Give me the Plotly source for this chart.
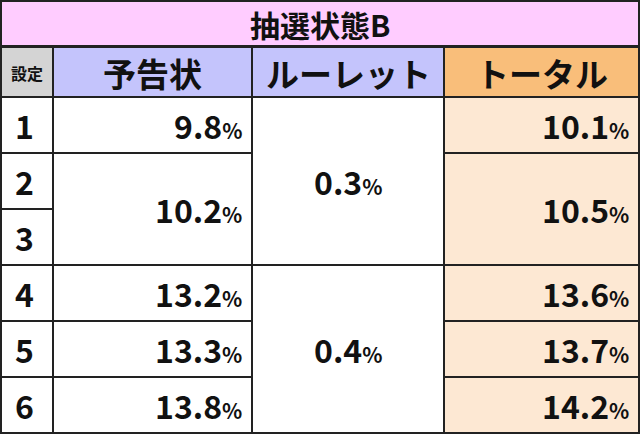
import plotly.graph_objects as go

title = "抽選状態B"
headers = ["設定", "予告状", "ルーレット", "トータル"]
settings = ["1", "2", "3", "4", "5", "6"]
# (value, row span) -- merged cells
yokoku = [("9.8", 1), ("10.2", 2), ("13.2", 1), ("13.3", 1), ("13.8", 1)]
roulette = [("0.3", 3), ("0.4", 3)]
total = [("10.1", 1), ("10.5", 2), ("13.6", 1), ("13.7", 1), ("14.2", 1)]

W, H = 640, 434
col_x = [1, 53, 252, 444, 639]
title_h, head_top, head_bot = 46, 47, 97
row_h = (H - 1 - head_bot) / 6
FONT = "Noto Sans CJK JP"

shapes, ann = [], []
def rect(x0, y0, x1, y1, fill):
    shapes.append(dict(type="rect", x0=x0, x1=x1, y0=y0, y1=y1, fillcolor=fill,
                       line=dict(color="#222", width=2), layer="below"))

def text(x, y, s, size, anchor="center"):
    ann.append(dict(x=x, y=y, text=s, showarrow=False, xanchor=anchor, yanchor="middle",
                    font=dict(family=FONT, size=size, color="#111")))

rect(1, 1, W - 1, title_h, "#ffccff")
text(W / 2, title_h / 2 + 1, "<b>" + title + "</b>", 30)

head_fill = ["#d4d4d4", "#c4c4fc", "#c4c4fc", "#f9be7a"]
for i, h in enumerate(headers):
    rect(col_x[i], head_top, col_x[i + 1], head_bot, head_fill[i])
    text((col_x[i] + col_x[i + 1]) / 2, (head_top + head_bot) / 2 + 1, "<b>" + h + "</b>",
         16 if i == 0 else 33)

for r, s in enumerate(settings):
    y0 = head_bot + r * row_h
    rect(col_x[0], y0, col_x[1], y0 + row_h, "#ffffff")
    text((col_x[0] + col_x[1]) / 2 - 3, y0 + row_h / 2, "<b>" + s + "</b>", 32)

def column(ci, items, fill, anchor):
    r = 0
    for v, span in items:
        y0 = head_bot + r * row_h
        y1 = y0 + span * row_h
        rect(col_x[ci], y0, col_x[ci + 1], y1, fill)
        label = "<b>" + v + "<span style='font-size:21px'>%</span></b>"
        if anchor == "right":
            text(col_x[ci + 1] - 8, (y0 + y1) / 2, label, 32, "right")
        else:
            text((col_x[ci] + col_x[ci + 1]) / 2, (y0 + y1) / 2, label, 32)
        r += span

column(1, yokoku, "#ffffff", "right")
column(2, roulette, "#ffffff", "center")
column(3, total, "#fde8d3", "right")

fig = go.Figure()
fig.update_layout(width=W, height=H, margin=dict(l=0, r=0, t=0, b=0),
                  paper_bgcolor="white", plot_bgcolor="white",
                  xaxis=dict(range=[0, W], visible=False, fixedrange=True),
                  yaxis=dict(range=[H, 0], visible=False, fixedrange=True),
                  shapes=shapes, annotations=ann, showlegend=False)
fig.write_html("out.html", config={"displayModeBar": False},
               post_script="document.body.style.margin='0';document.body.style.overflow='hidden';")
